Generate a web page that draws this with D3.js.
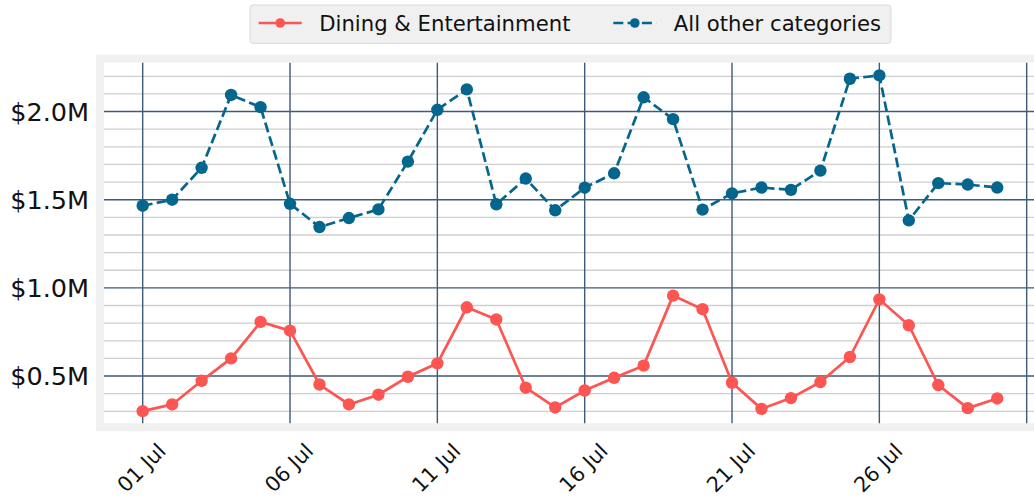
<!DOCTYPE html>
<html>
<head>
<meta charset="utf-8">
<script src="https://cdn.jsdelivr.net/npm/d3@7"></script>
<style>
  body { margin: 0; background: #ffffff; overflow: hidden; }
  text { font-family: "DejaVu Sans", sans-serif; fill: #111111; }
</style>
</head>
<body>
<div id="chart"></div>
<script>
// data (values in $M)
var dayStrings = ["2020-07-01","2020-07-02","2020-07-03","2020-07-04","2020-07-05","2020-07-06",
  "2020-07-07","2020-07-08","2020-07-09","2020-07-10","2020-07-11","2020-07-12","2020-07-13",
  "2020-07-14","2020-07-15","2020-07-16","2020-07-17","2020-07-18","2020-07-19","2020-07-20",
  "2020-07-21","2020-07-22","2020-07-23","2020-07-24","2020-07-25","2020-07-26","2020-07-27",
  "2020-07-28","2020-07-29","2020-07-30"];
var dining = [0.301,0.339,0.473,0.600,0.807,0.757,0.452,0.339,0.394,0.496,0.572,0.890,0.821,0.434,0.322,
  0.418,0.490,0.559,0.956,0.879,0.462,0.314,0.375,0.466,0.608,0.935,0.788,0.449,0.318,0.373];
var other = [1.466,1.500,1.681,2.094,2.025,1.477,1.345,1.396,1.445,1.716,2.010,2.126,1.474,1.620,1.440,
  1.568,1.650,2.081,1.957,1.444,1.536,1.569,1.556,1.665,2.186,2.205,1.383,1.594,1.586,1.569];
var seriesNames = ["Dining & Entertainment", "All other categories"];
var yMajorTicks = [0.5, 1.0, 1.5, 2.0];
var yMinorTicks = [0.3,0.4,0.6,0.7,0.8,0.9,1.1,1.2,1.3,1.4,1.6,1.7,1.8,1.9,2.1,2.2];
// gridlines every 5 days, labels only for the ones shown in the picture
var xGridStrings = ["2020-07-01","2020-07-06","2020-07-11","2020-07-16","2020-07-21","2020-07-26","2020-07-31"];
var xLabelStrings = ["2020-07-01","2020-07-06","2020-07-11","2020-07-16","2020-07-21","2020-07-26"];

var parse = d3.utcParse("%Y-%m-%d");
var dates = dayStrings.map(parse);
var xGrid = xGridStrings.map(parse);
var xLabels = xLabelStrings.map(parse);

var red = "#fd5552";
var blue = "#05668d";
var majorGrid = "#3d5a78";
var minorGrid = "#cfcfcf";

var W = 1034, H = 499;
// plot (white area) bounds
var plot = {left: 104, top: 62.7, right: 1037, bottom: 423.3};
var frame = 8;

var svg = d3.select("#chart")
  .append("svg")
  .attr("width", W)
  .attr("height", H);

// x axis is time, a bit of padding either side
var dayMs = 24*60*60*1000;
var x = d3.scaleUtc()
  .domain([new Date(+dates[0] - 1.313*dayMs), new Date(+dates[0] + 30.35*dayMs)])
  .range([plot.left, plot.right]);

var y = d3.scaleLinear()
  .domain([0.232, 2.277])
  .range([plot.bottom, plot.top]);

// grey frame + white face
svg.append("rect")
  .attr("x", plot.left - frame)
  .attr("y", plot.top - frame)
  .attr("width", plot.right - plot.left + 2*frame)
  .attr("height", plot.bottom - plot.top + 2*frame)
  .attr("fill", "#f0f0f0");
svg.append("rect")
  .attr("x", plot.left)
  .attr("y", plot.top)
  .attr("width", plot.right - plot.left)
  .attr("height", plot.bottom - plot.top)
  .attr("fill", "#ffffff");

var grid = svg.append("g");

// minor horizontal grid
grid.selectAll(".minor")
  .data(yMinorTicks)
  .enter()
  .append("line")
  .attr("x1", plot.left)
  .attr("x2", plot.right)
  .attr("y1", function(d) { return y(d); })
  .attr("y2", function(d) { return y(d); })
  .attr("stroke", minorGrid)
  .attr("stroke-width", 1.3);

// major horizontal grid
grid.selectAll(".majorY")
  .data(yMajorTicks)
  .enter()
  .append("line")
  .attr("x1", plot.left)
  .attr("x2", plot.right)
  .attr("y1", function(d) { return y(d); })
  .attr("y2", function(d) { return y(d); })
  .attr("stroke", majorGrid)
  .attr("stroke-width", 1.4);

// major vertical grid
grid.selectAll(".majorX")
  .data(xGrid)
  .enter()
  .append("line")
  .attr("x1", function(d) { return x(d); })
  .attr("x2", function(d) { return x(d); })
  .attr("y1", plot.top)
  .attr("y2", plot.bottom)
  .attr("stroke", majorGrid)
  .attr("stroke-width", 1.4);

// y tick labels
svg.append("g")
  .selectAll("text")
  .data(yMajorTicks)
  .enter()
  .append("text")
  .attr("x", 89)
  .attr("y", function(d) { return y(d); })
  .attr("dy", "0.36em")
  .attr("text-anchor", "end")
  .style("font-size", "25.5px")
  .text(function(d) { return "$" + d3.format(".1f")(d) + "M"; });

// x tick labels, rotated 45
var fmt = d3.utcFormat("%d %b");
svg.append("g")
  .selectAll("text")
  .data(xLabels)
  .enter()
  .append("text")
  .attr("text-anchor", "middle")
  .attr("dominant-baseline", "central")
  .attr("transform", function(d) { return "translate(" + (x(d) - 1) + ",468) rotate(-45)"; })
  .style("font-size", "20.8px")
  .text(function(d) { return fmt(d); });

// lines
var line = function(vals) {
  return d3.line()
    .x(function(d, i) { return x(dates[i]); })
    .y(function(d) { return y(d); })(vals);
};

var marks = svg.append("g");

marks.append("path")
  .attr("d", line(other))
  .attr("fill", "none")
  .attr("stroke", blue)
  .attr("stroke-width", 2.7)
  .attr("stroke-dasharray", "10,4.3");
marks.selectAll(".dotO")
  .data(other)
  .enter()
  .append("circle")
  .attr("cx", function(d, i) { return x(dates[i]); })
  .attr("cy", function(d) { return y(d); })
  .attr("r", 6.2)
  .attr("fill", blue);

marks.append("path")
  .attr("d", line(dining))
  .attr("fill", "none")
  .attr("stroke", red)
  .attr("stroke-width", 2.7);
marks.selectAll(".dotD")
  .data(dining)
  .enter()
  .append("circle")
  .attr("cx", function(d, i) { return x(dates[i]); })
  .attr("cy", function(d) { return y(d); })
  .attr("r", 6.2)
  .attr("fill", red);

// legend
var legend = svg.append("g");
legend.append("rect")
  .attr("x", 250)
  .attr("y", 5)
  .attr("width", 641)
  .attr("height", 38.3)
  .attr("rx", 3)
  .attr("fill", "#f0f0f0")
  .attr("stroke", "#d9d9d9")
  .attr("stroke-width", 1);

var legItems = [
  {name: seriesNames[0], color: red, dash: null, x0: 258.7},
  {name: seriesNames[1], color: blue, dash: "10,4.3", x0: 613.3}
];
legItems.forEach(function(it) {
  legend.append("line")
    .attr("x1", it.x0)
    .attr("x2", it.x0 + 43)
    .attr("y1", 23)
    .attr("y2", 23)
    .attr("stroke", it.color)
    .attr("stroke-width", 2.7)
    .attr("stroke-dasharray", it.dash);
  legend.append("circle")
    .attr("cx", it.x0 + 21.5)
    .attr("cy", 23)
    .attr("r", 4.8)
    .attr("fill", it.color);
  legend.append("text")
    .attr("x", it.x0 + 60.5)
    .attr("y", 30.7)
    .style("font-size", "21.2px")
    .text(it.name);
});
</script>
</body>
</html>
